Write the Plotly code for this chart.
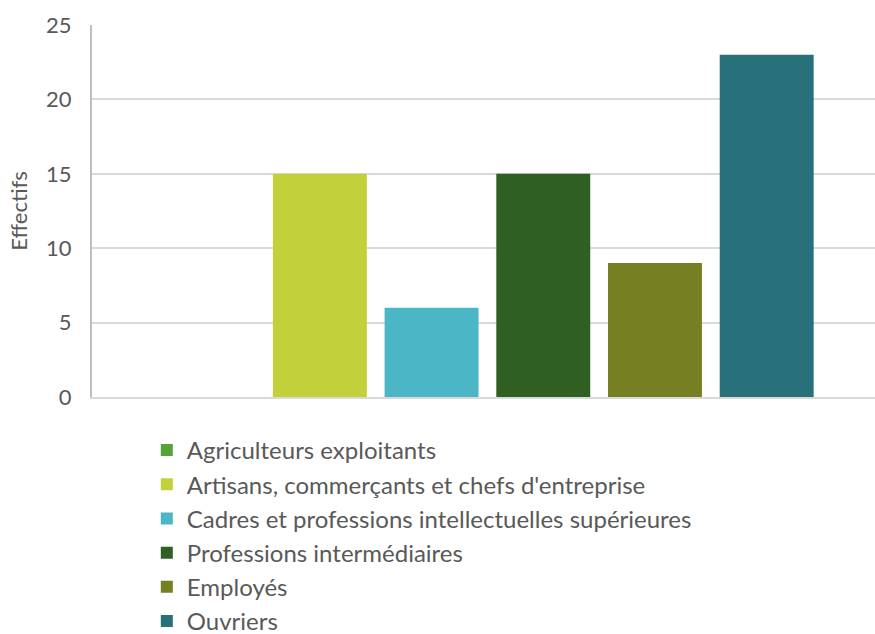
import plotly.graph_objects as go

# Effectifs par catégorie socioprofessionnelle
categories = [
    "Agriculteurs exploitants",
    "Artisans, commerçants et chefs d'entreprise",
    "Cadres et professions intellectuelles supérieures",
    "Professions intermédiaires",
    "Employés",
    "Ouvriers",
]
effectifs = [0, 15, 6, 15, 9, 23]
couleurs = ["#58A23C", "#C2D03A", "#4BB6C6", "#305F22", "#767F22", "#28707A"]

font_family = "Lato, 'Open Sans', sans-serif"
text_color = "#595959"

fig = go.Figure()
for name, value, color in zip(categories, effectifs, couleurs):
    fig.add_trace(go.Bar(
        x=[""],
        y=[value],
        name=name,
        marker=dict(color=color, line=dict(width=0)),
        hoverinfo="name+y",
    ))

fig.update_layout(
    width=875,
    height=634,
    barmode="group",
    bargap=0.144,
    bargroupgap=0.159,
    paper_bgcolor="white",
    plot_bgcolor="white",
    margin=dict(l=92, r=0, t=25, b=237, autoexpand=False),
    font=dict(family=font_family, color=text_color),
    showlegend=True,
    legend=dict(
        orientation="v",
        x=0.07,
        xanchor="left",
        y=0.325,
        yref="container",
        yanchor="top",
        font=dict(size=24, color=text_color, family=font_family),
        traceorder="normal",
        itemclick=False,
        bgcolor="rgba(0,0,0,0)",
    ),
    xaxis=dict(
        range=[-0.505, 0.495],
        showticklabels=False,
        showgrid=False,
        showline=True,
        linecolor="#D9D9D9",
        linewidth=2,
        ticks="",
        zeroline=False,
    ),
    yaxis=dict(
        range=[0, 25],
        dtick=5,
        tick0=0,
        showgrid=True,
        gridcolor="#D9D9D9",
        gridwidth=1.5,
        showline=True,
        linecolor="#BFBFBF",
        linewidth=2,
        zeroline=False,
        ticks="",
        ticklabelstandoff=14,
        tickfont=dict(size=22, color=text_color, family=font_family),
        title=dict(text="Effectifs", font=dict(size=22, color=text_color, family=font_family), standoff=12),
    ),
)

fig.write_html("out.html")
